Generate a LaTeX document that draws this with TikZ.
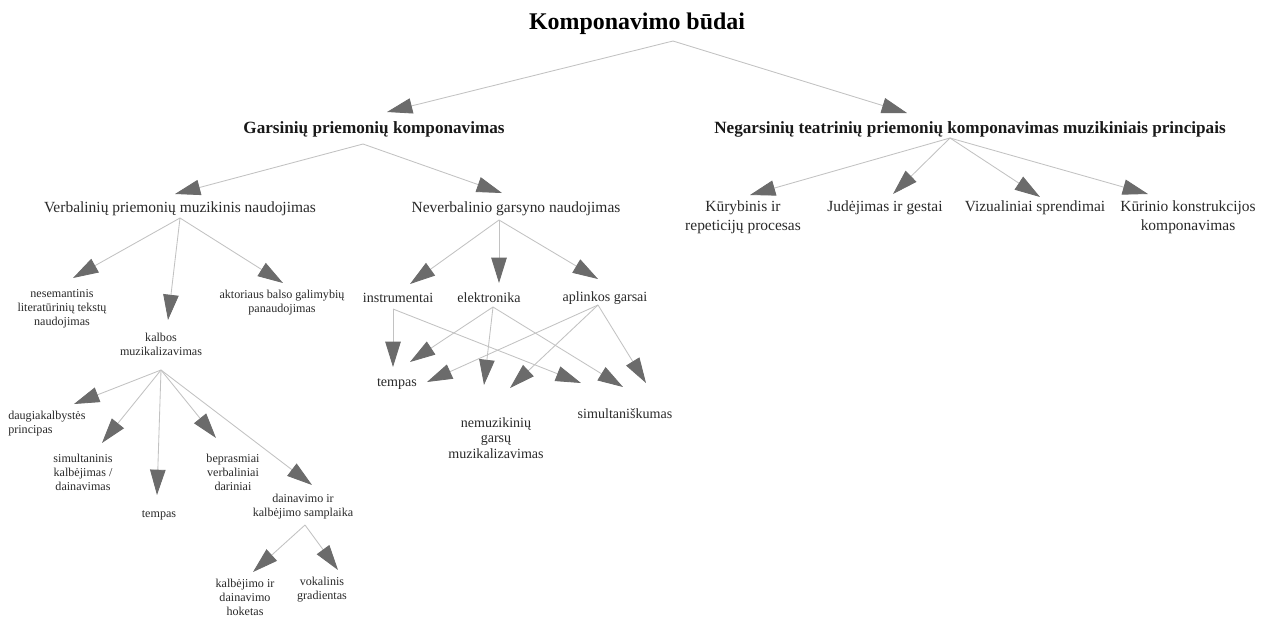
\documentclass[tikz,border=0pt]{standalone}
\usepackage{fontspec}
\setmainfont{Liberation Serif}
\usetikzlibrary{arrows.meta}

\definecolor{linegray}{HTML}{C2C2C2}
\definecolor{tipgray}{HTML}{6B6B6B}
\definecolor{textgray}{HTML}{2A2A2A}

\tikzset{
    toplabel/.style={font=\bfseries\fontsize{17}{20}\selectfont, text=black},
    mainlabel/.style={font=\bfseries\fontsize{12.2}{14}\selectfont, text=black!90},
    midlabel/.style={font=\fontsize{11}{13.5}\selectfont, text=textgray, align=center, inner sep=0pt},
    sndlabel/.style={font=\fontsize{10}{11}\selectfont, text=textgray, align=center, inner sep=0pt},
    smalllabel/.style={font=\fontsize{8.6}{10}\selectfont, text=textgray, align=center, inner sep=0pt},
    link/.style={draw=linegray, line width=0.6pt, -{Triangle[length=18pt, width=11pt, color=tipgray]}}
}

\begin{document}
\begin{tikzpicture}[x=0.025cm, y=-0.025cm]
    % Canvas
    \fill[white] (0,0) rectangle (1268,620);

    % Top levels
    \node[toplabel] (root) at (637,24) {Komponavimo būdai};
    \node[mainlabel] (gars) at (374,129) {Garsinių priemonių komponavimas};
    \node[mainlabel] (negars) at (970,129) {Negarsinių teatrinių priemonių komponavimas muzikiniais principais};

    % Second level
    \node[midlabel] (verb) at (180,209) {Verbalinių priemonių muzikinis naudojimas};
    \node[midlabel] (neverb) at (516,209) {Neverbalinio garsyno naudojimas};
    \node[midlabel] (kur) at (743,217) {Kūrybinis ir\\repeticijų procesas};
    \node[midlabel] (jud) at (885,208) {Judėjimas ir gestai};
    \node[midlabel] (viz) at (1035,208) {Vizualiniai sprendimai};
    \node[midlabel] (kon) at (1188,217) {Kūrinio konstrukcijos\\komponavimas};

    % Verbal branch
    \node[smalllabel] (nesem) at (62,309) {nesemantinis\\literatūrinių tekstų\\naudojimas};
    \node[smalllabel] (kalbos) at (161,344) {kalbos\\muzikalizavimas};
    \node[smalllabel] (aktor) at (282,303) {aktoriaus balso galimybių\\panaudojimas};
    \node[smalllabel, align=left, anchor=west] (daug) at (8,424) {daugiakalbystės\\principas};
    \node[smalllabel] (simkal) at (83,472) {simultaninis\\kalbėjimas /\\dainavimas};
    \node[smalllabel] (tempas1) at (159,515) {tempas};
    \node[smalllabel] (bepr) at (233,472) {beprasmiai\\verbaliniai\\dariniai};
    \node[smalllabel] (dain) at (303,507) {dainavimo ir\\kalbėjimo samplaika};
    \node[smalllabel] (hok) at (245,597) {kalbėjimo ir\\dainavimo\\hoketas};
    \node[smalllabel] (vok) at (322,590) {vokalinis\\gradientas};

    % Non-verbal branch
    \node[sndlabel] (instr) at (398,298) {instrumentai};
    \node[sndlabel] (elek) at (489,298) {elektronika};
    \node[sndlabel] (aplink) at (605,298) {aplinkos garsai};
    \node[sndlabel] (tempas2) at (397,384) {tempas};
    \node[sndlabel] (nemuz) at (496,438) {nemuzikinių\\garsų\\muzikalizavimas};
    \node[sndlabel] (simult) at (625,414) {simultaniškumas};

    % Points where the connectors leave
    \coordinate (root-out) at (673,41);
    \coordinate (gars-out) at (363,144);
    \coordinate (negars-out) at (950,138);
    \coordinate (verb-out) at (180,218);
    \coordinate (neverb-out) at (499,220);
    \coordinate (kalbos-out) at (161,370);
    \coordinate (dain-out) at (305,525);
    \coordinate (instr-out) at (393,309);
    \coordinate (elek-out) at (493,307);
    \coordinate (aplink-out) at (598,305);

    % Points where the arrow tips stop
    \coordinate (gars-in) at (387,112);
    \coordinate (negars-in) at (907,113);
    \coordinate (verb-in) at (175,194);
    \coordinate (neverb-in) at (502,193);
    \coordinate (kur-in) at (750,195);
    \coordinate (jud-in) at (893,194);
    \coordinate (viz-in) at (1040,197);
    \coordinate (kon-in) at (1148,194);
    \coordinate (nesem-in) at (73,278);
    \coordinate (kalbos-in) at (168,320);
    \coordinate (aktor-in) at (283,283);
    \coordinate (daug-in) at (74,404);
    \coordinate (simkal-in) at (102,443);
    \coordinate (tempas1-in) at (157,495);
    \coordinate (bepr-in) at (216,438);
    \coordinate (dain-in) at (312,485);
    \coordinate (hok-in) at (253,572);
    \coordinate (vok-in) at (338,570);
    \coordinate (instr-in) at (410,284);
    \coordinate (elek-in) at (499,283);
    \coordinate (aplink-in) at (598,279);
    \coordinate (tempas2-in1) at (393,367);
    \coordinate (tempas2-in2) at (410,362);
    \coordinate (tempas2-in3) at (427,382);
    \coordinate (nemuz-in1) at (484,385);
    \coordinate (nemuz-in2) at (510,388);
    \coordinate (simult-in1) at (581,383);
    \coordinate (simult-in2) at (623,387);
    \coordinate (simult-in3) at (646,383);

    % Connectors
    \draw[link] (root-out) -- (gars-in);
    \draw[link] (root-out) -- (negars-in);
    \draw[link] (gars-out) -- (verb-in);
    \draw[link] (gars-out) -- (neverb-in);
    \draw[link] (negars-out) -- (kur-in);
    \draw[link] (negars-out) -- (jud-in);
    \draw[link] (negars-out) -- (viz-in);
    \draw[link] (negars-out) -- (kon-in);
    \draw[link] (verb-out) -- (nesem-in);
    \draw[link] (verb-out) -- (kalbos-in);
    \draw[link] (verb-out) -- (aktor-in);
    \draw[link] (kalbos-out) -- (daug-in);
    \draw[link] (kalbos-out) -- (simkal-in);
    \draw[link] (kalbos-out) -- (tempas1-in);
    \draw[link] (kalbos-out) -- (bepr-in);
    \draw[link] (kalbos-out) -- (dain-in);
    \draw[link] (dain-out) -- (hok-in);
    \draw[link] (dain-out) -- (vok-in);
    \draw[link] (neverb-out) -- (instr-in);
    \draw[link] (neverb-out) -- (elek-in);
    \draw[link] (neverb-out) -- (aplink-in);
    \draw[link] (instr-out) -- (tempas2-in1);
    \draw[link] (instr-out) -- (simult-in1);
    \draw[link] (elek-out) -- (tempas2-in2);
    \draw[link] (elek-out) -- (nemuz-in1);
    \draw[link] (elek-out) -- (simult-in2);
    \draw[link] (aplink-out) -- (tempas2-in3);
    \draw[link] (aplink-out) -- (nemuz-in2);
    \draw[link] (aplink-out) -- (simult-in3);
\end{tikzpicture}
\end{document}
